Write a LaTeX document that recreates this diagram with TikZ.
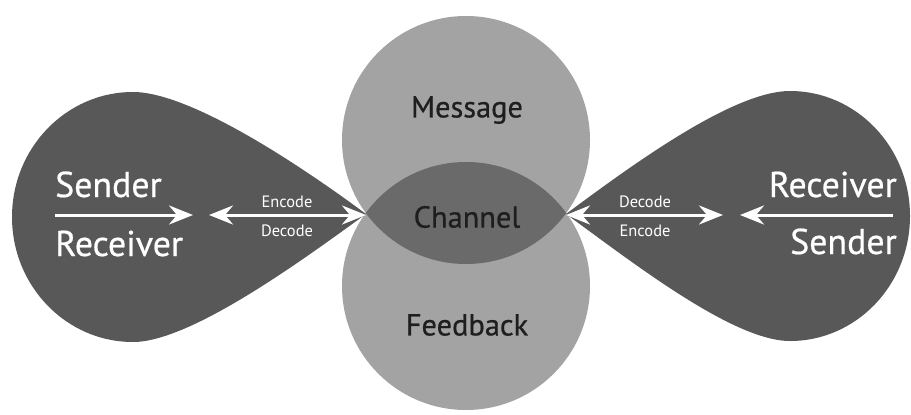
\documentclass[tikz,border=0pt]{standalone}
\usepackage{fontspec}
\setmainfont{PT Sans}
\usepackage{xcolor}
\usetikzlibrary{positioning,arrows.meta}

\definecolor{blobgray}{HTML}{585858}
\definecolor{ringgray}{HTML}{A3A3A3}
\definecolor{lensgray}{HTML}{6A6A6A}
\definecolor{inkgray}{HTML}{1E1E1E}

\tikzset{
    bigword/.style={text=white,font=\addfontfeature{FakeBold=0.6}\fontsize{36}{36}\selectfont,inner sep=0pt},
    smallword/.style={text=white,font=\fontsize{16.5}{16.5}\selectfont,inner sep=0pt},
    ringword/.style={text=inkgray,font=\addfontfeature{FakeBold=0.6}\fontsize{30.5}{30.5}\selectfont,inner sep=0pt},
    oneway/.style={white,line width=3bp,-{Stealth[length=24bp,width=19bp,inset=8bp]}},
    twoway/.style={white,line width=3bp,{Stealth[length=24bp,width=19bp,inset=8bp]}-{Stealth[length=24bp,width=19bp,inset=8bp]}}
}

\begin{document}
\begin{tikzpicture}[x=1bp,y=1bp]
        %\draw [help lines] (0,0) grid (911,414);
        \useasboundingbox (0,0) rectangle (911,414);

        % the two rings and the channel between them
        \fill[ringgray] (466,274) circle[radius=124bp];
        \fill[ringgray] (466,128) circle[radius=124bp];
        \begin{scope}
            \clip (466,274) circle[radius=124bp];
            \fill[lensgray] (466,128) circle[radius=124bp];
        \end{scope}

        \coordinate (tipL) at (366,200);
        \coordinate (tipR) at (566,200);

        % drops
        \fill[blobgray] (tipL) .. controls (300,249) and (190,322) .. (133,322)
            arc[start angle=90,end angle=270,x radius=121bp,y radius=125bp]
            .. controls (190,72) and (300,152) .. (tipL);
        \fill[blobgray] (tipR) .. controls (632,249) and (733,323) .. (790,323)
            arc[start angle=90,end angle=-90,x radius=120bp,y radius=125bp]
            .. controls (733,73) and (632,152) .. (tipR);

        \node[ringword] (message) at (467,304) {Message};
        \node[ringword] (channel) at (467,197) {Channel};
        \node[ringword] (feedback) at (467,89) {Feedback};

        % left side
        \node[bigword,anchor=base west] (sendL) at (55,217) {Sender};
        \node[bigword,anchor=base west] (recvL) at (55,158) {Receiver};
        \coordinate (fromL) at (55,199);
        \coordinate (toL) at (193,199);
        \draw[oneway] (fromL) -- (toL);

        \coordinate (codeL) at (209,199);
        \coordinate (endL) at (366,199);
        \draw[twoway] (codeL) -- (endL);
        \node[smallword] (encL) at (287,212) {Encode};
        \node[smallword] (decL) at (287,183) {Decode};

        % right side
        \node[bigword,anchor=base east] (recvR) at (897,217) {Receiver};
        \node[bigword,anchor=base east] (sendR) at (897,160) {Sender};
        \coordinate (fromR) at (893,199);
        \coordinate (toR) at (740,199);
        \draw[oneway] (fromR) -- (toR);

        \coordinate (endR) at (566,199);
        \coordinate (codeR) at (723,199);
        \draw[twoway] (endR) -- (codeR);
        \node[smallword] (decR) at (645,212) {Decode};
        \node[smallword] (encR) at (645,183) {Encode};
    \end{tikzpicture}
\end{document}
